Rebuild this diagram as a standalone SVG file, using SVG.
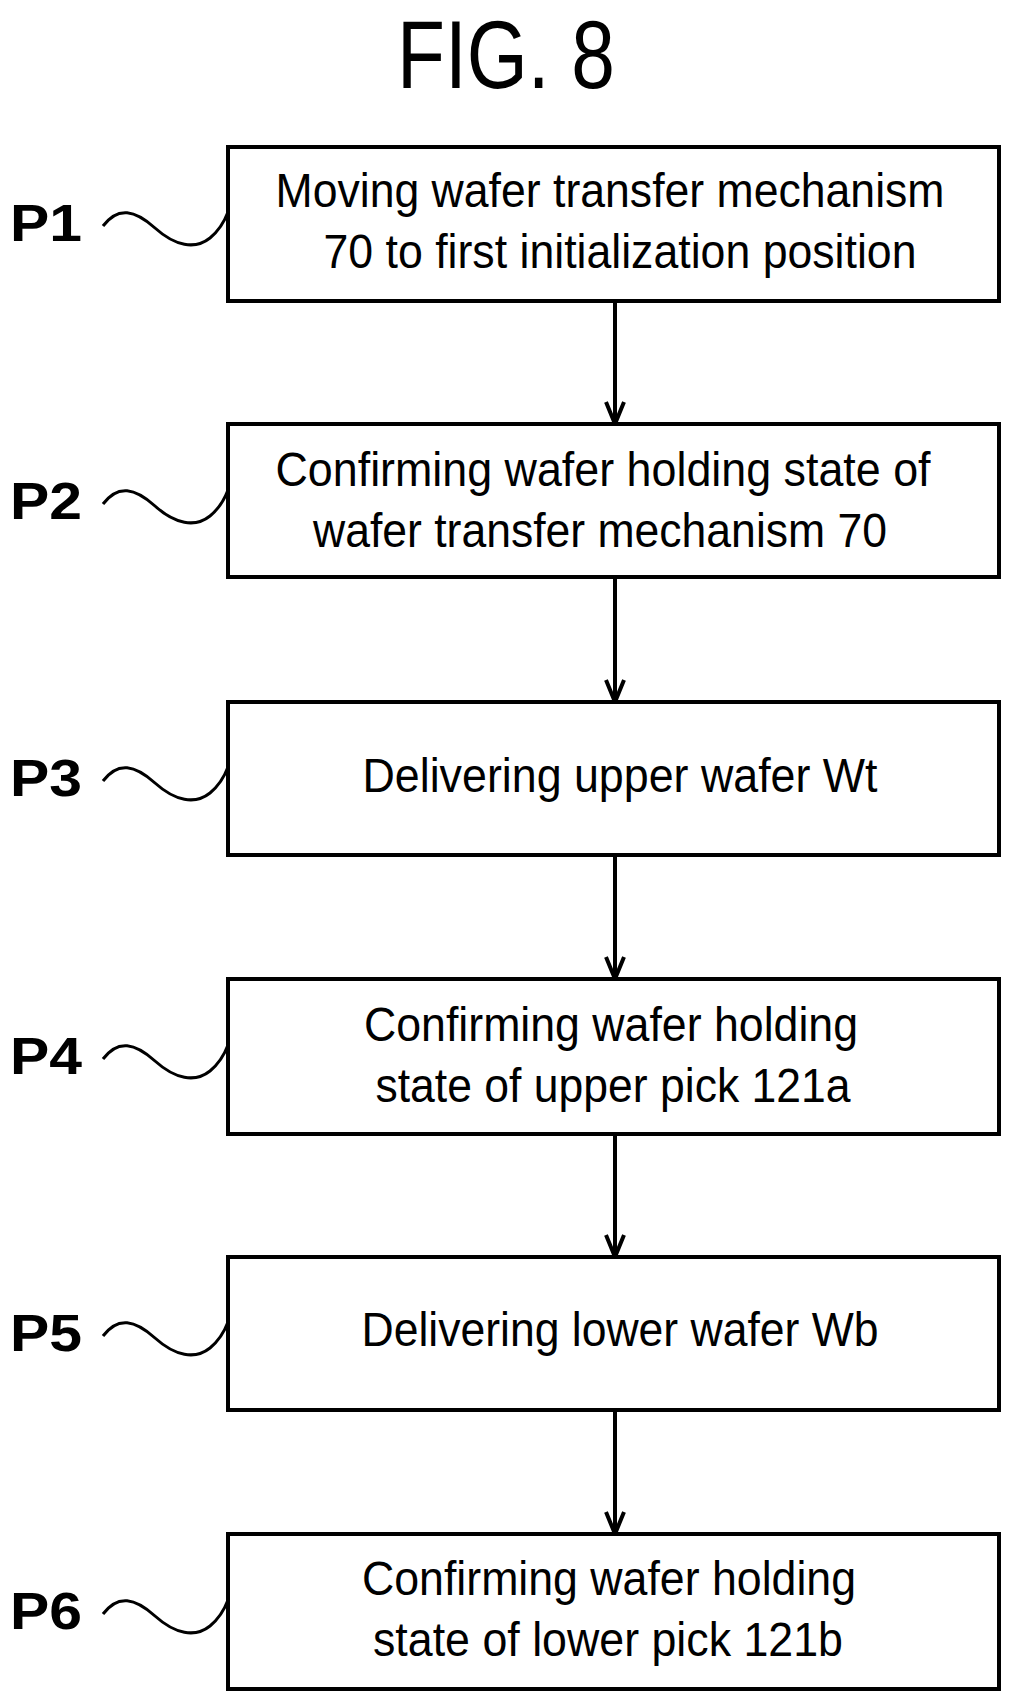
<svg xmlns="http://www.w3.org/2000/svg" width="1017" height="1698" viewBox="0 0 1017 1698">
<style>
.b{fill:#fff;stroke:#000;stroke-width:4}
.t{font-family:"Liberation Sans",Arial,sans-serif;font-size:48px;text-anchor:middle}
.l{font-family:"Liberation Sans",Arial,sans-serif;font-size:52px;font-weight:bold}
.w{fill:none;stroke:#000;stroke-width:3}
.c{fill:none;stroke:#000;stroke-width:4}
</style>
<rect width="1017" height="1698" fill="#fff"/>
<text x="506" y="88" font-family="Liberation Sans, Arial, sans-serif" font-size="96" text-anchor="middle" textLength="218" lengthAdjust="spacingAndGlyphs">FIG. 8</text>
<g id="connectors">
<path class="c" d="M615,301V424M606,402L615,424L624,402"/>
<path class="c" d="M615,577V702M606,680L615,702L624,680"/>
<path class="c" d="M615,855V979M606,957L615,979L624,957"/>
<path class="c" d="M615,1134V1257M606,1235L615,1257L624,1235"/>
<path class="c" d="M615,1410V1534M606,1512L615,1534L624,1512"/>
</g>
<g id="p1"><rect class="b" x="228" y="147" width="771" height="154"/>
<text class="t" x="610" y="207" textLength="669" lengthAdjust="spacingAndGlyphs">Moving wafer transfer mechanism</text>
<text class="t" x="620" y="268" textLength="593" lengthAdjust="spacingAndGlyphs">70 to first initialization position</text>
<text class="l" x="10" y="241" textLength="72" lengthAdjust="spacingAndGlyphs">P1</text><path class="w" d="M103,226C118,206 135,210 155,228S195,250 210,238Q222,228 228,212"/></g>
<g id="p2"><rect class="b" x="228" y="424" width="771" height="153"/>
<text class="t" x="603" y="486" textLength="655" lengthAdjust="spacingAndGlyphs">Confirming wafer holding state of</text>
<text class="t" x="600" y="547" textLength="574" lengthAdjust="spacingAndGlyphs">wafer transfer mechanism 70</text>
<text class="l" x="10" y="519" textLength="72" lengthAdjust="spacingAndGlyphs">P2</text><path class="w" d="M103,504C118,484 135,488 155,506S195,528 210,516Q222,506 228,490"/></g>
<g id="p3"><rect class="b" x="228" y="702" width="771" height="153"/>
<text class="t" x="620" y="792" textLength="515" lengthAdjust="spacingAndGlyphs">Delivering upper wafer Wt</text>
<text class="l" x="10" y="796" textLength="72" lengthAdjust="spacingAndGlyphs">P3</text><path class="w" d="M103,781C118,761 135,765 155,783S195,805 210,793Q222,783 228,767"/></g>
<g id="p4"><rect class="b" x="228" y="979" width="771" height="155"/>
<text class="t" x="611" y="1041" textLength="494" lengthAdjust="spacingAndGlyphs">Confirming wafer holding</text>
<text class="t" x="613" y="1102" textLength="475" lengthAdjust="spacingAndGlyphs">state of upper pick 121a</text>
<text class="l" x="10" y="1074" textLength="72" lengthAdjust="spacingAndGlyphs">P4</text><path class="w" d="M103,1059C118,1039 135,1043 155,1061S195,1083 210,1071Q222,1061 228,1045"/></g>
<g id="p5"><rect class="b" x="228" y="1257" width="771" height="153"/>
<text class="t" x="620" y="1346" textLength="517" lengthAdjust="spacingAndGlyphs">Delivering lower wafer Wb</text>
<text class="l" x="10" y="1351" textLength="72" lengthAdjust="spacingAndGlyphs">P5</text><path class="w" d="M103,1336C118,1316 135,1320 155,1338S195,1360 210,1348Q222,1338 228,1322"/></g>
<g id="p6"><rect class="b" x="228" y="1534" width="771" height="155"/>
<text class="t" x="609" y="1595" textLength="494" lengthAdjust="spacingAndGlyphs">Confirming wafer holding</text>
<text class="t" x="608" y="1656" textLength="470" lengthAdjust="spacingAndGlyphs">state of lower pick 121b</text>
<text class="l" x="10" y="1629" textLength="72" lengthAdjust="spacingAndGlyphs">P6</text><path class="w" d="M103,1614C118,1594 135,1598 155,1616S195,1638 210,1626Q222,1616 228,1600"/></g>
</svg>
